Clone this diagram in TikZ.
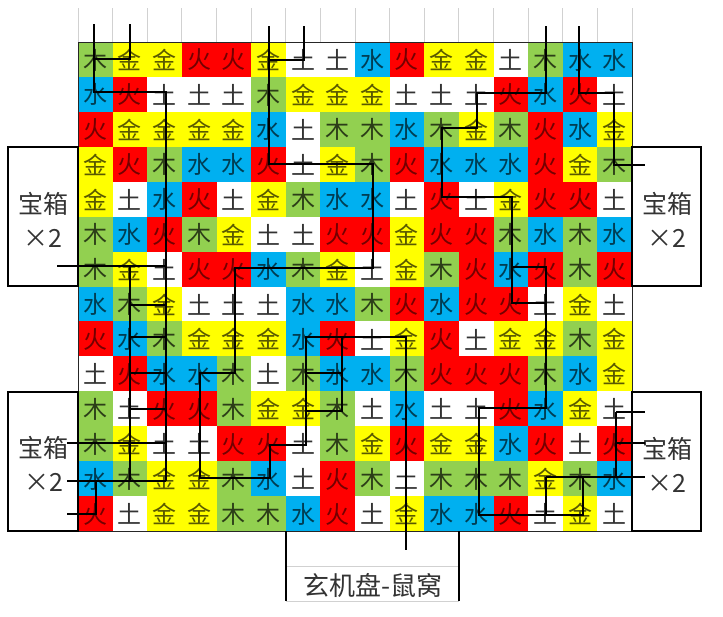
\documentclass[tikz,border=0pt]{standalone}
\usepackage{fontspec}
\newfontfamily\cjk{Noto Sans CJK SC}
\definecolor{cM}{HTML}{92D050}
\definecolor{cJ}{HTML}{FFFF00}
\definecolor{cH}{HTML}{FF0000}
\definecolor{cT}{HTML}{FFFFFF}
\definecolor{cS}{HTML}{00B0F0}
\colorlet{tM}{cM!30!black}
\colorlet{tJ}{cJ!35!black}
\colorlet{tH}{cH!45!black}
\colorlet{tT}{black!80}
\colorlet{tS}{cS!35!black}
\def\chM{木}\def\chJ{金}\def\chH{火}\def\chT{土}\def\chS{水}
\begin{document}
\begin{tikzpicture}[x=1pt,y=-1pt,
  cell/.style={inner sep=0pt,font=\cjk\fontsize{24}{27}\selectfont},
  trail/.style={draw=black,line width=2pt,line join=miter},
  boxline/.style={draw=black,line width=1.3pt},
  faint/.style={draw=black!18,line width=0.8pt},
  label/.style={inner sep=0pt,align=center,font=\cjk\fontsize{25}{34}\selectfont,text=black!80}]
\useasboundingbox (0,0) rectangle (723,616);
\fill[white] (0,0) rectangle (723,616);
% faint spreadsheet gridlines above grid
\foreach \k in {0,...,16} \draw[faint] ({78+\k*34.625},8) -- ({78+\k*34.625},42);
\draw[faint] (286,566) -- (459,566);
\draw[faint] (286,601) -- (459,601);
% grid cells
\foreach \row [count=\r] in {
 {M,J,J,H,H,J,T,T,S,H,J,J,T,M,S,S},
 {S,H,T,T,T,M,J,J,J,T,T,T,H,S,H,T},
 {H,J,J,J,J,S,T,M,M,S,M,J,M,H,S,J},
 {J,H,M,S,S,H,T,J,M,H,S,S,S,H,J,M},
 {J,T,S,H,T,J,M,S,S,T,H,T,J,H,H,T},
 {M,S,H,M,J,T,T,H,H,J,H,H,M,S,M,S},
 {M,J,T,H,H,S,M,J,T,J,M,H,S,H,M,H},
 {S,M,J,T,T,T,S,S,M,H,S,H,H,T,J,T},
 {H,S,M,J,J,J,S,H,T,J,H,T,J,J,M,J},
 {T,H,S,S,M,T,M,S,S,M,H,H,H,M,S,J},
 {M,T,H,H,M,J,J,M,T,S,T,T,H,S,J,T},
 {M,J,T,T,H,H,T,M,J,H,J,J,S,H,T,H},
 {S,M,J,J,M,S,T,H,M,T,M,M,M,J,M,S},
 {H,T,J,J,M,M,S,H,T,J,S,S,H,T,J,T}} {
  \foreach \c [count=\k] in \row {
    \fill[c\c] ({78+(\k-1)*34.625},{42+(\r-1)*34.93}) rectangle +(34.95,35.25);
    \node[cell,text=t\c] (n\r-\k) at ({78+(\k-0.5)*34.625},{42.5+(\r-0.5)*34.93}) {\csname ch\c\endcsname};
  }
}
% grid border
\draw[black!85,line width=1pt] (78,42) rectangle (632,531);
% boxes
\draw[boxline] (8,147) rectangle (78,286);
\draw[boxline] (8,392) rectangle (78,531);
\draw[boxline] (632,147) rectangle (701,286);
\draw[boxline] (632,392) rectangle (701,531);
\draw[boxline] (286,531) -- (286,601);
\draw[boxline] (459,531) -- (459,601);
\node[label] (bl1) at (43,220) {宝箱\\×2};
\node[label] (bl2) at (44,464) {宝箱\\×2};
\node[label] (br1) at (667,220) {宝箱\\×2};
\node[label] (br2) at (667,465) {宝箱\\×2};
\node[label,font=\cjk\fontsize{26}{30}\selectfont] (home) at (373,585) {玄机盘-鼠窝};
% left paths
\draw[trail] (94,24) -- (94,92) -- (166,92) -- (166,481);
\draw[trail] (130,24) -- (130,59) -- (94,59);
\draw[trail] (57,266) -- (166,266);
\draw[trail] (130,266) -- (130,481);
\draw[trail] (130,305) -- (166,305);
\draw[trail] (130,337) -- (166,337);
\draw[trail] (130,373) -- (166,373);
\draw[trail] (130,409) -- (166,409);
\draw[trail] (67,443) -- (166,443);
\draw[trail] (67,481) -- (166,481);
\draw[trail] (96,481) -- (96,514) -- (67,514);
% middle paths
\draw[trail] (269,26) -- (269,164) -- (373,164) -- (373,268) -- (235,268) -- (235,373) -- (200,373) -- (200,478) -- (270,478) -- (270,445) -- (306,445) -- (306,337) -- (406,337) -- (406,550);
\draw[trail] (269,60) -- (304,60) -- (304,26);
\draw[trail] (306,373) -- (342,373);
\draw[trail] (342,337) -- (342,411) -- (306,411);
% right paths
\draw[trail] (546,26) -- (546,93) -- (477,93) -- (477,128) -- (442,128) -- (442,197) -- (512,197) -- (512,303) -- (546,303);
\draw[trail] (512,267) -- (546,267) -- (546,408) -- (479,408) -- (479,515) -- (583,515) -- (583,477);
\draw[trail] (546,477) -- (645,477);
\draw[trail] (546,477) -- (546,515);
\draw[trail] (579,26) -- (579,93) -- (614,93) -- (614,165) -- (645,165);
\draw[trail] (616,412) -- (616,477);
\draw[trail] (616,412) -- (645,412);
\draw[trail] (616,443) -- (645,443);
\end{tikzpicture}
\end{document}
